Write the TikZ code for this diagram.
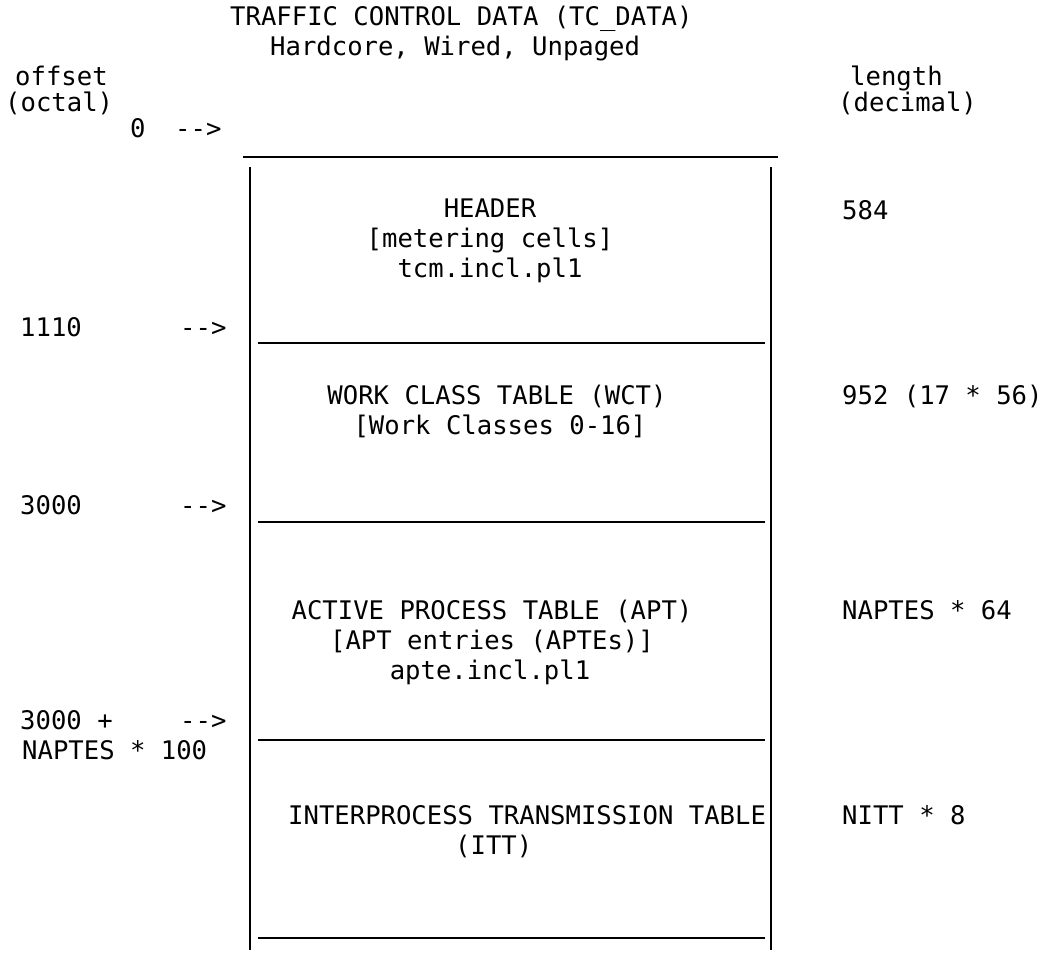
\documentclass[tikz,border=0pt]{standalone}
\usepackage{fontspec}
\newfontfamily\tcfont{DejaVu Sans Mono}
\tikzset{
  lbl/.style={font=\tcfont\fontsize{25.6}{30}\selectfont, inner sep=0pt, anchor=base west},
  mid/.style={lbl, anchor=base},
  rule/.style={line width=2.6pt},
}
\begin{document}
\begin{tikzpicture}[x=1pt,y=-1pt]
\useasboundingbox (0,0) rectangle (1045,953);

\node[lbl] (title) at (230,25) {TRAFFIC CONTROL DATA (TC\_DATA)};
\node[lbl] (subtitle) at (270,55) {Hardcore, Wired, Unpaged};

\node[lbl] (offset) at (15,85) {offset};
\node[lbl] (octal) at (5,111) {(octal)};
\node[lbl] (length) at (850,85) {length};
\node[lbl] (decimal) at (838,111) {(decimal)};

\node[lbl] (off0) at (130,137) {0};
\node[lbl] (arr0) at (175,137) {-{}-{}>};
\node[lbl] (off1) at (20,336) {1110};
\node[lbl] (arr1) at (180,336) {-{}-{}>};
\node[lbl] (off2) at (20,514) {3000};
\node[lbl] (arr2) at (180,514) {-{}-{}>};
\node[lbl] (off3) at (20,729) {3000 +};
\node[lbl] (arr3) at (180,729) {-{}-{}>};
\node[lbl] (off3b) at (22,759) {NAPTES * 100};

\draw[rule] (243,157) -- (778,157);
\draw[rule] (250,167) -- (250,950);
\draw[rule] (771,167) -- (771,950);
\draw[rule] (258,343) -- (765,343);
\draw[rule] (258,522) -- (765,522);
\draw[rule] (258,740) -- (765,740);
\draw[rule] (258,938) -- (765,938);

\node[mid] (hdr) at (490,217) {HEADER};
\node[mid] (hdra) at (490,247) {[metering cells]};
\node[mid] (hdrb) at (490,277) {tcm.incl.pl1};
\node[lbl] (hdrlen) at (842,219) {584};

\node[mid] (wct) at (497,404) {WORK CLASS TABLE (WCT)};
\node[mid] (wcta) at (500,434) {[Work Classes 0-16]};
\node[lbl] (wctlen) at (842,404) {952 (17 * 56)};

\node[mid] (apt) at (492,619) {ACTIVE PROCESS TABLE (APT)};
\node[mid] (apta) at (492,649) {[APT entries (APTEs)]};
\node[mid] (aptb) at (490,679) {apte.incl.pl1};
\node[lbl] (aptlen) at (842,619) {NAPTES * 64};

\node[lbl] (itt) at (288,824) {INTERPROCESS TRANSMISSION TABLE};
\node[lbl] (itta) at (455,854) {(ITT)};
\node[lbl] (ittlen) at (842,824) {NITT * 8};

\end{tikzpicture}
\end{document}
